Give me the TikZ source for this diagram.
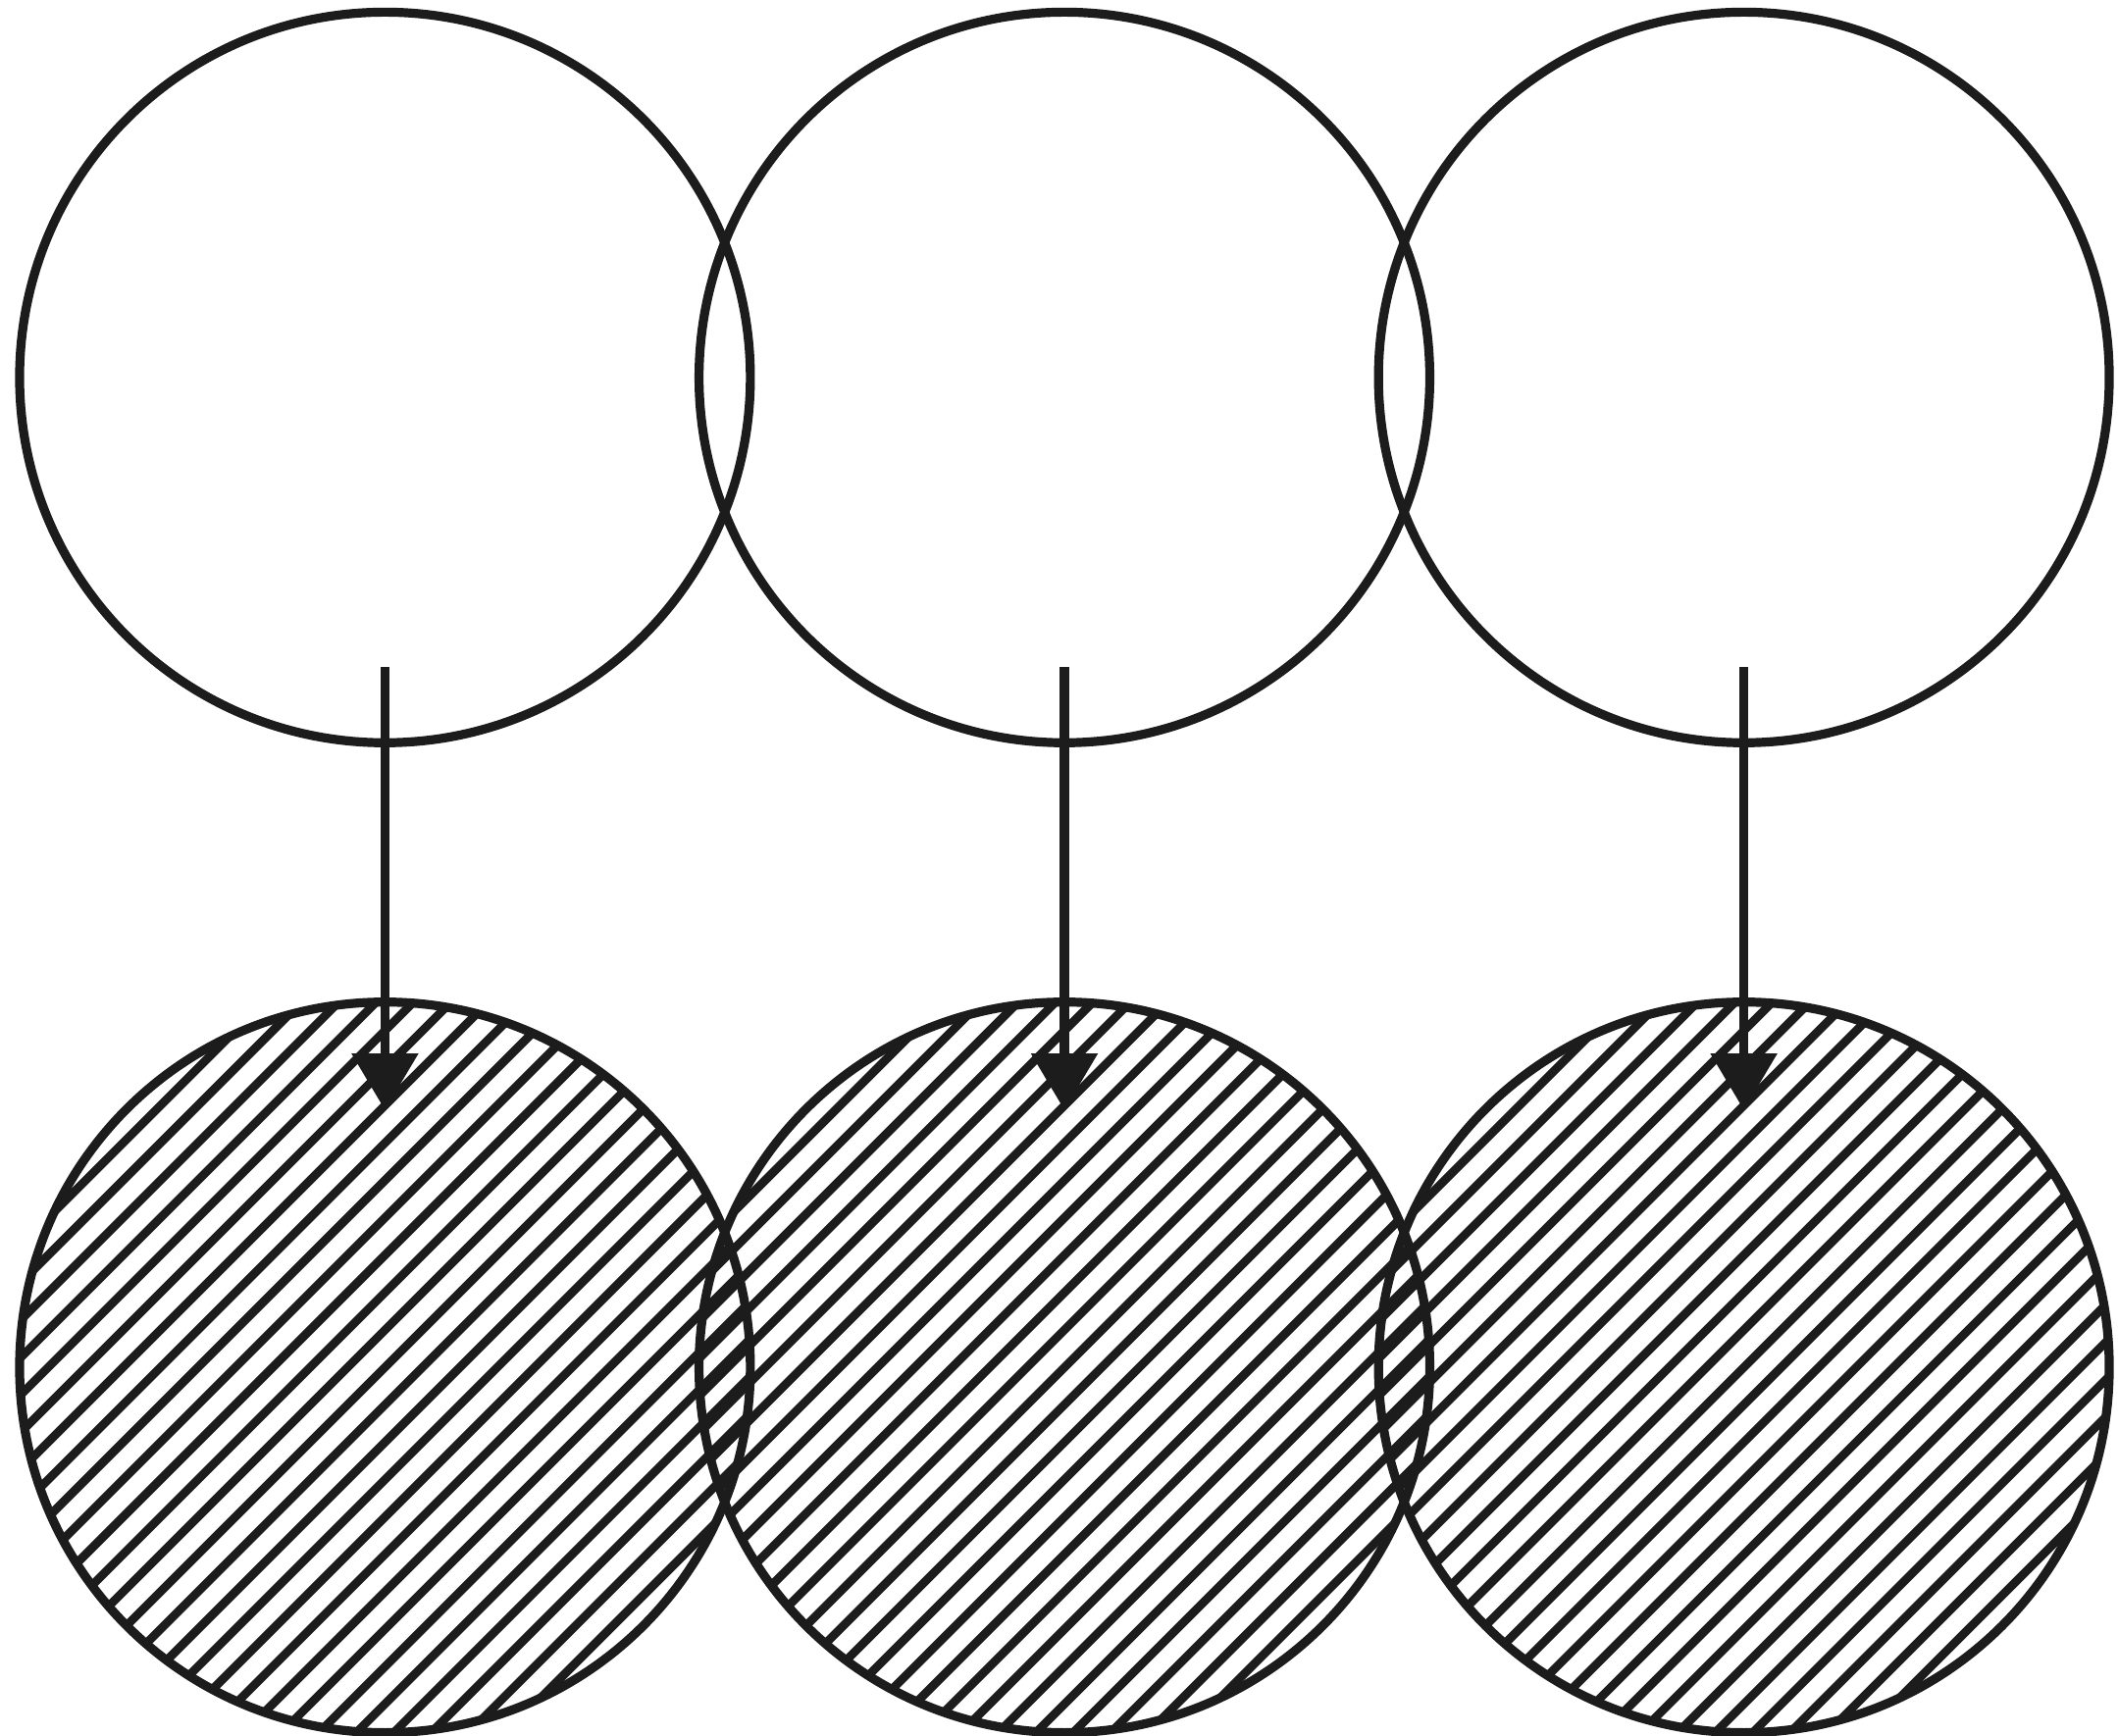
\documentclass[tikz,border=0pt]{standalone}
\usetikzlibrary{arrows.meta, calc}
\definecolor{ink}{RGB}{28, 28, 28}

\begin{document}
\begin{tikzpicture}[
	>=Triangle,
	% Styles for the circles
	ring/.style={circle, draw=ink, line width=1.9pt, minimum size=5.41cm, inner sep=0pt, outer sep=0pt},
	hatched/.style={path picture={
			\foreach \k in {-16,...,16}
			\draw[ink, line width=1.8pt, shift={(path picture bounding box.center)}]
			(\k*0.277-3.5, -3.5) -- (\k*0.277+3.5, 3.5);
	}},
	% Style for the arrows
	flow/.style={-{Triangle[length=0.42cm, width=0.48cm]}, draw=ink, line width=1.9pt}
	]
	
	% NOTE: units are 1/100 of the picture width (15.68 x 12.85)
	\useasboundingbox (0, 0) rectangle (15.68, -12.85);
	
	% ==========================================
	% TOP ROW: OPEN CIRCLES
	% ==========================================
	\node[ring] (ring1) at (2.85, -2.795) {};
	\node[ring] (ring2) at (7.88, -2.795) {};
	\node[ring] (ring3) at (12.91, -2.795) {};
	
	% ==========================================
	% BOTTOM ROW: HATCHED CIRCLES
	% ==========================================
	\node[ring, hatched] (disc1) at (2.85, -10.125) {};
	\node[ring, hatched] (disc2) at (7.88, -10.125) {};
	\node[ring, hatched] (disc3) at (12.91, -10.125) {};
	
	% ==========================================
	% ARROWS
	% ==========================================
	% Start a bit above the bottom of each open circle
	\coordinate (start1) at ($(ring1.center)+(0, -2.145)$);
	\coordinate (start2) at ($(ring2.center)+(0, -2.145)$);
	\coordinate (start3) at ($(ring3.center)+(0, -2.145)$);
	% Tips end just inside the hatched circles
	\coordinate (end1) at ($(disc1.north)+(0, -0.80)$);
	\coordinate (end2) at ($(disc2.north)+(0, -0.80)$);
	\coordinate (end3) at ($(disc3.north)+(0, -0.80)$);
	
	\draw[flow] (start1) -- (end1);
	\draw[flow] (start2) -- (end2);
	\draw[flow] (start3) -- (end3);
	
\end{tikzpicture}
\end{document}
